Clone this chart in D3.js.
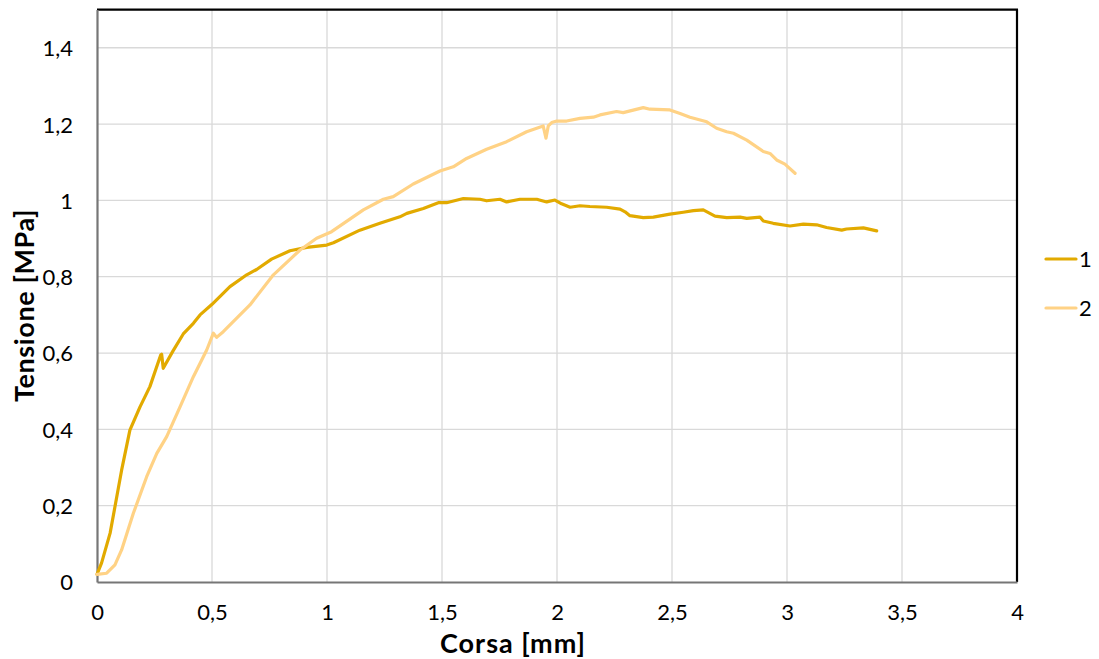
<!DOCTYPE html>
<html>
<head>
<meta charset="utf-8">
<script src="https://cdn.jsdelivr.net/npm/d3@7/dist/d3.min.js"></script>
<style>
  html, body { margin: 0; padding: 0; background: #fff; }
  svg { display: block; font-family: Lato, "Open Sans", sans-serif; }
</style>
</head>
<body>
<svg id="chart" width="1099" height="659"></svg>
<script>
// Stress–stroke curves for two specimens: [corsa (mm), tensione (MPa)]
const series1 = [
  [0,0.02],[0.02,0.05],[0.057,0.128],[0.078,0.197],[0.107,0.293],[0.143,0.398],
  [0.187,0.459],[0.23,0.512],[0.277,0.595],[0.281,0.597],[0.288,0.56],[0.33,0.605],
  [0.375,0.65],[0.419,0.678],[0.448,0.7],[0.499,0.727],[0.578,0.774],[0.651,0.805],
  [0.694,0.819],[0.759,0.846],[0.839,0.868],[0.912,0.877],[0.999,0.883],[1.028,0.889],
  [1.143,0.922],[1.23,0.94],[1.317,0.957],[1.347,0.966],[1.419,0.979],[1.484,0.994],
  [1.52,0.994],[1.593,1.005],[1.665,1.003],[1.694,0.999],[1.752,1.003],[1.781,0.996],
  [1.839,1.003],[1.912,1.003],[1.955,0.996],[1.991,1.001],[2.02,0.991],[2.057,0.982],
  [2.1,0.986],[2.143,0.984],[2.216,0.982],[2.274,0.977],[2.296,0.970],[2.317,0.96],
  [2.375,0.955],[2.419,0.956],[2.491,0.964],[2.549,0.969],[2.593,0.973],[2.636,0.975],
  [2.687,0.959],[2.738,0.955],[2.796,0.956],[2.825,0.953],[2.883,0.956],[2.897,0.946],
  [2.94,0.94],[3.013,0.933],[3.071,0.938],[3.129,0.936],[3.172,0.929],[3.238,0.922],
  [3.259,0.925],[3.332,0.928],[3.39,0.92]
];
const series2 = [
  [0,0.02],[0.042,0.023],[0.078,0.045],[0.107,0.084],[0.158,0.18],[0.216,0.276],
  [0.26,0.337],[0.303,0.381],[0.361,0.459],[0.419,0.538],[0.477,0.608],[0.506,0.652],
  [0.52,0.641],[0.549,0.656],[0.665,0.726],[0.767,0.805],[0.883,0.87],[0.955,0.901],
  [1.02,0.918],[1.158,0.975],[1.245,1.003],[1.288,1.01],[1.375,1.043],[1.491,1.077],
  [1.549,1.088],[1.607,1.11],[1.694,1.134],[1.781,1.154],[1.868,1.18],[1.94,1.195],
  [1.952,1.163],[1.962,1.195],[1.977,1.204],[1.999,1.208],[2.042,1.208],[2.1,1.215],
  [2.158,1.218],[2.187,1.224],[2.259,1.233],[2.288,1.23],[2.375,1.243],[2.404,1.239],
  [2.491,1.237],[2.535,1.228],[2.578,1.218],[2.651,1.206],[2.694,1.189],[2.738,1.18],
  [2.767,1.176],[2.825,1.158],[2.897,1.128],[2.926,1.123],[2.955,1.106],[2.991,1.095],
  [3.035,1.071]
];
const seriesNames = ["1", "2"];
const seriesColors = ["#E2AA00", "#FFD285"];
const xTicks = [0, 0.5, 1, 1.5, 2, 2.5, 3, 3.5, 4];
const yTicks = [0, 0.2, 0.4, 0.6, 0.8, 1, 1.2, 1.4];
const xTitle = "Corsa [mm]";
const yTitle = "Tensione [MPa]";

const svg = d3.select("#chart");
const plot = { left: 97, right: 1017, top: 9.6, bottom: 582 };

const x = d3.scaleLinear().domain([0, 4]).range([plot.left, plot.right]);
const y = d3.scaleLinear().domain([0, 1.5]).range([plot.bottom, plot.top]);
const fmt = v => String(v).replace(".", ",");

// grid
svg.append("g").selectAll("line").data(xTicks.filter(t => t > 0 && t < 4)).join("line")
  .attr("x1", d => x(d)).attr("x2", d => x(d))
  .attr("y1", plot.top).attr("y2", plot.bottom)
  .attr("stroke", "#d9d9d9").attr("stroke-width", 1.3);
svg.append("g").selectAll("line").data(yTicks.filter(t => t > 0)).join("line")
  .attr("x1", plot.left).attr("x2", plot.right)
  .attr("y1", d => y(d)).attr("y2", d => y(d))
  .attr("stroke", "#d9d9d9").attr("stroke-width", 1.3);

// frame: dark top/right border, grey axis lines
svg.append("line").attr("x1", plot.left).attr("x2", plot.right + 1)
  .attr("y1", plot.top).attr("y2", plot.top).attr("stroke", "#000").attr("stroke-width", 2.2);
svg.append("line").attr("x1", plot.right).attr("x2", plot.right)
  .attr("y1", plot.top).attr("y2", plot.bottom).attr("stroke", "#000").attr("stroke-width", 2.2);

// axes (no tick marks, labels only)
const xAxis = d3.axisBottom(x).tickValues(xTicks).tickFormat(fmt).tickSize(0).tickPadding(0);
const yAxis = d3.axisLeft(y).tickValues(yTicks).tickFormat(fmt).tickSize(0).tickPadding(0);

const gx = svg.append("g").attr("transform", `translate(0,${plot.bottom})`).call(xAxis);
gx.select(".domain").attr("stroke", "#767676").attr("stroke-width", 2.2);
gx.selectAll("text").attr("font-family", "Lato, sans-serif").attr("font-size", 22)
  .attr("fill", "#000").attr("dy", null).attr("y", 38);

const gy = svg.append("g").attr("transform", `translate(${plot.left},0)`).call(yAxis);
gy.select(".domain").attr("stroke", "#767676").attr("stroke-width", 2.2);
gy.selectAll("text").attr("font-family", "Lato, sans-serif").attr("font-size", 22)
  .attr("fill", "#000").attr("x", -24).attr("dy", "0.36em");

// curves
const line = d3.line().x(d => x(d[0])).y(d => y(d[1]));
[series1, series2].forEach((s, i) => {
  svg.append("path").datum(s)
    .attr("fill", "none")
    .attr("stroke", seriesColors[i])
    .attr("stroke-width", 3.2)
    .attr("stroke-linejoin", "round")
    .attr("stroke-linecap", "round")
    .attr("d", line);
});

// axis titles
svg.append("text").attr("x", 513).attr("y", 652.5)
  .attr("text-anchor", "middle").attr("font-weight", "bold").attr("font-size", 27)
  .attr("letter-spacing", 1).attr("fill", "#000").text(xTitle);
svg.append("text").attr("transform", "translate(34,305.5) rotate(-90)")
  .attr("text-anchor", "middle").attr("font-weight", "bold").attr("font-size", 27)
  .attr("letter-spacing", 0.6).attr("fill", "#000").text(yTitle);

// legend
const legend = svg.append("g");
seriesNames.forEach((name, i) => {
  const ly = 259 + i * 49;
  legend.append("line").attr("x1", 1046).attr("x2", 1076).attr("y1", ly).attr("y2", ly)
    .attr("stroke", seriesColors[i]).attr("stroke-width", 3.2).attr("stroke-linecap", "round");
  legend.append("text").attr("x", 1079).attr("y", ly).attr("dy", "0.36em")
    .attr("font-size", 22).attr("fill", "#000").text(name);
});
</script>
</body>
</html>
